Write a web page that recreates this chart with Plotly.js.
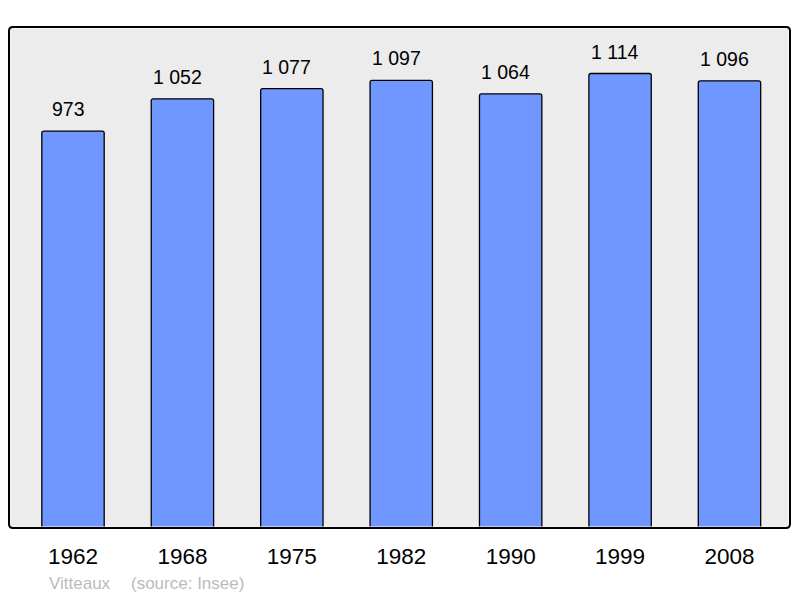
<!DOCTYPE html>
<html><head><meta charset="utf-8">
<script src="https://cdn.plot.ly/plotly-3.0.1.min.js"></script>
<style>body{margin:0;background:#fff}#c{width:800px;height:598px}</style>
</head><body><div id="c"></div>
<script>
const years = ["1962","1968","1975","1982","1990","1999","2008"];
const population = [973,1052,1077,1097,1064,1114,1096];
const labels = ["973","1 052","1 077","1 097","1 064","1 114","1 096"];
const town = "Vitteaux";
const source = "(source: Insee)";

const trace = {
  type:"bar", x:years, y:population, width:0.57,
  marker:{color:"#7096ff", line:{color:"#000", width:1.3}, cornerradius:2},
  hoverinfo:"none"
};
const annotations = years.map((yr,i)=>({
  x:i, y:population[i], xref:"x", yref:"y", text:labels[i], showarrow:false,
  yanchor:"bottom", yshift:9, xshift:-5, font:{family:"Liberation Sans, Arial, sans-serif", size:19.5, color:"#000"}
}));
annotations.push({xref:"paper", yref:"paper", x:(47-9)/781, y:-(583-528)/501, xanchor:"left", yanchor:"middle",
  text:town, showarrow:false, font:{family:"Liberation Sans, Arial, sans-serif", size:17, color:"#bbbbbb"}});
annotations.push({xref:"paper", yref:"paper", x:(129-9)/781, y:-(583-528)/501, xanchor:"left", yanchor:"middle",
  text:source, showarrow:false, font:{family:"Liberation Sans, Arial, sans-serif", size:17, color:"#bbbbbb"}});

const rx = 4/781, ry = 4/501;
const border = `M ${rx},1 L ${1-rx},1 Q 1,1 1,${1-ry} L 1,${ry} Q 1,0 ${1-rx},0 L ${rx},0 Q 0,0 0,${ry} L 0,${1-ry} Q 0,1 ${rx},1 Z`;

const layout = {
  width:800, height:598,
  margin:{l:9, r:10, t:27, b:70},
  paper_bgcolor:"#fff", plot_bgcolor:"#ececec",
  showlegend:false,
  xaxis:{type:"category", range:[-0.585,6.553], showgrid:false, zeroline:false, showline:false,
    ticks:"", tickfont:{family:"Liberation Sans, Arial, sans-serif", size:22.5, color:"#000"}, ticklabelstandoff:12},
  yaxis:{range:[0,1228], showgrid:false, zeroline:false, showticklabels:false, ticks:"", showline:false},
  shapes:[
    {type:"rect", xref:"paper", yref:"paper", x0:0, x1:1, y0:0, y1:1, line:{color:"#fff", width:3}, layer:"above"},
    {type:"path", xref:"paper", yref:"paper", path:border, line:{color:"#000", width:2}, layer:"above"}],
  annotations:annotations
};
Plotly.newPlot("c",[trace],layout,{staticPlot:true});
</script></body></html>
